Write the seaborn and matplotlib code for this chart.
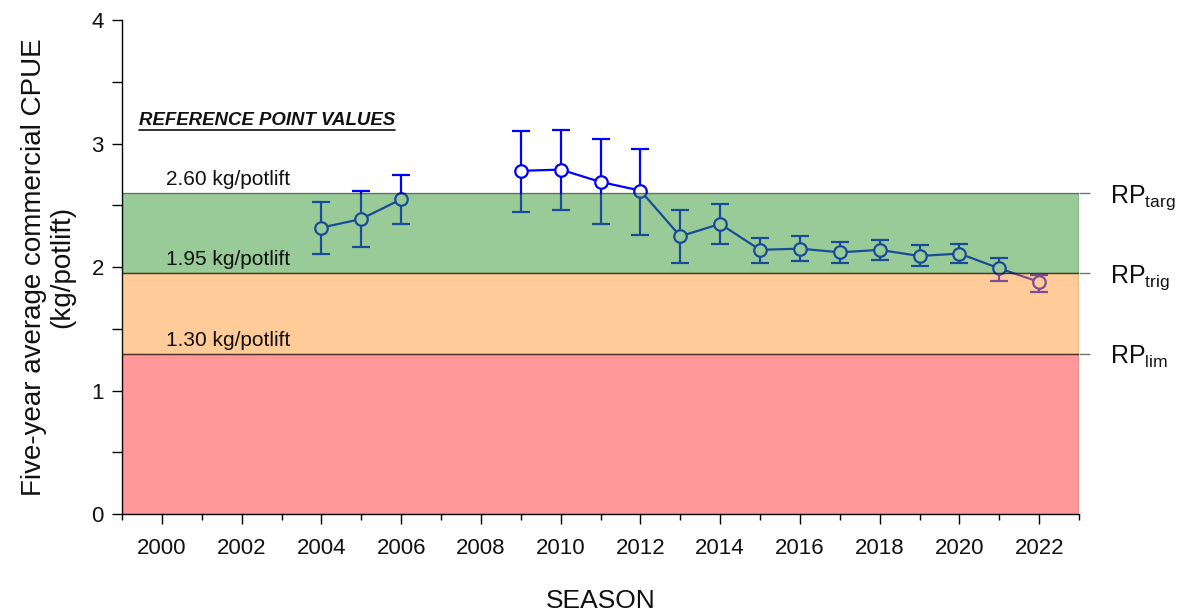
import matplotlib
matplotlib.use("Agg")
import matplotlib.pyplot as plt
from matplotlib.ticker import MultipleLocator, NullLocator
from matplotlib.lines import Line2D
import numpy as np
import pandas as pd
import seaborn as sns

# Five-year average commercial CPUE with confidence limits
seasons = [2004, 2005, 2006, 2009, 2010, 2011, 2012, 2013, 2014,
           2015, 2016, 2017, 2018, 2019, 2020, 2021, 2022]
cpue = [2.32, 2.39, 2.55, 2.78, 2.79, 2.69, 2.62, 2.25, 2.35,
        2.14, 2.15, 2.12, 2.14, 2.09, 2.11, 1.99, 1.88]
upper = [2.53, 2.62, 2.75, 3.10, 3.11, 3.04, 2.96, 2.46, 2.51,
         2.24, 2.25, 2.20, 2.22, 2.18, 2.19, 2.07, 1.94]
lower = [2.11, 2.16, 2.35, 2.45, 2.46, 2.35, 2.26, 2.03, 2.19,
         2.03, 2.05, 2.03, 2.06, 2.01, 2.03, 1.89, 1.80]
# continuous runs of seasons (no index in 2007-2008)
segment = [1, 1, 1] + [2] * 14

# Reference points
rp_targ, rp_trig, rp_lim = 2.60, 1.95, 1.30
rp_values = [rp_targ, rp_trig, rp_lim]
rp_names = [r"RP$_{\mathregular{targ}}$", r"RP$_{\mathregular{trig}}$", r"RP$_{\mathregular{lim}}$"]
rp_texts = ["2.60 kg/potlift", "1.95 kg/potlift", "1.30 kg/potlift"]

df = pd.DataFrame({"season": seasons, "cpue": cpue, "upper": upper,
                   "lower": lower, "segment": segment})

sns.set_theme(style="ticks")
plt.rcParams["font.family"] = ["Liberation Sans", "DejaVu Sans"]
plt.rcParams["mathtext.fontset"] = "custom"
plt.rcParams["mathtext.rm"] = "Liberation Sans"

fig = plt.figure(figsize=(11.94, 6.12), dpi=100)
ax = fig.add_axes([0.1022, 0.160, 0.8015, 0.807])

line_col = "#0000FF"

# error bars
ax.errorbar(df["season"], df["cpue"],
            yerr=[df["cpue"] - df["lower"], df["upper"] - df["cpue"]],
            fmt="none", ecolor=line_col, elinewidth=1.6, capsize=6.5,
            capthick=1.6, zorder=2)

# series line and markers
sns.lineplot(data=df, x="season", y="cpue", units="segment", estimator=None,
             color=line_col, linewidth=1.6, marker="o", markersize=9,
             markerfacecolor="white", markeredgecolor=line_col,
             markeredgewidth=1.6, ax=ax, zorder=2, legend=False)

# translucent reference-point zones laid over the series
ax.axhspan(rp_trig, rp_targ, facecolor="#339933", edgecolor="black",
           linewidth=1.0, alpha=0.5, zorder=3)
ax.axhspan(rp_lim, rp_trig, facecolor="#FF9933", edgecolor="black",
           linewidth=1.0, alpha=0.5, zorder=3)
ax.axhspan(0, rp_lim, facecolor="#FF3333", edgecolor="black",
           linewidth=1.0, alpha=0.5, zorder=3)

# reference point value annotations
for val, txt in zip(rp_values, rp_texts):
    ax.text(2000.1, val + 0.065, txt, fontsize=15, color="#111111",
            ha="left", va="baseline", zorder=5)

title = ax.text(1999.43, 3.15, "REFERENCE POINT VALUES", fontsize=13.4,
                fontweight="bold", fontstyle="italic", color="#111111",
                ha="left", va="baseline", zorder=5)

ax.set_xlim(1999, 2023)
ax.set_ylim(0, 4)
ax.xaxis.set_major_locator(MultipleLocator(2))
ax.xaxis.set_minor_locator(MultipleLocator(1))
ax.yaxis.set_major_locator(MultipleLocator(1))
ax.yaxis.set_minor_locator(MultipleLocator(0.5))
ax.set_xticks(np.arange(2000, 2023, 2))
ax.tick_params(axis="both", which="major", direction="out", length=7,
               width=1.0, color="black", labelsize=16, labelcolor="#111111", pad=6)
ax.tick_params(axis="y", which="minor", direction="out", length=7,
               width=1.0, color="black")
ax.tick_params(axis="x", which="minor", direction="out", length=4,
               width=1.0, color="black")
ax.tick_params(axis="x", which="major", pad=10)

for side in ["top", "right"]:
    ax.spines[side].set_visible(False)
for side in ["left", "bottom"]:
    ax.spines[side].set_color("black")
    ax.spines[side].set_linewidth(1.0)

ax.set_xlabel("SEASON", fontsize=19, color="#111111", labelpad=22)
ax.set_ylabel("Five-year average commercial CPUE\n(kg/potlift)", fontsize=20,
              color="#111111", labelpad=12, linespacing=1.1)

# reference point labels on the right
sec = ax.secondary_yaxis("right")
sec.set_yticks(rp_values, labels=rp_names)
sec.tick_params(axis="y", direction="out", length=8, width=1.0,
                color="0.45", labelsize=18, labelcolor="#111111", pad=14)
sec.yaxis.set_minor_locator(NullLocator())
sec.spines["right"].set_visible(False)

# underline the heading
fig.canvas.draw()
bb = title.get_window_extent().transformed(fig.transFigure.inverted())
fig.add_artist(Line2D([bb.x0, bb.x1], [bb.y0 - 0.001, bb.y0 - 0.001],
                      color="#111111", linewidth=1.2,
                      transform=fig.transFigure))

fig.savefig("out.png", dpi=100)
